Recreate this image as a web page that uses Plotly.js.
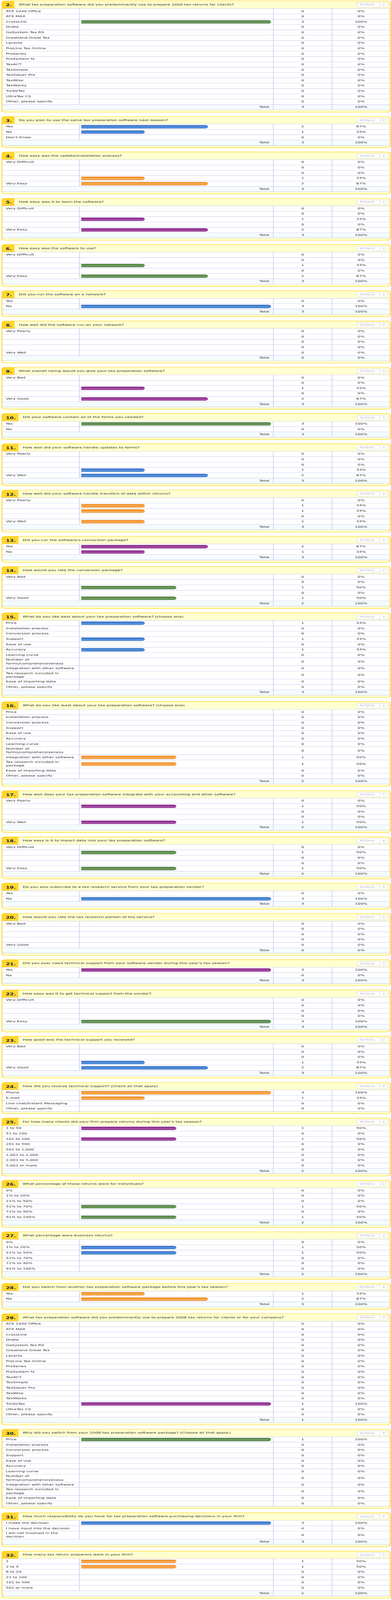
<!DOCTYPE html>
<html>
<head>
<meta charset="utf-8">
<script src="https://cdn.plot.ly/plotly-3.0.1.min.js"></script>
<style>html,body{margin:0;padding:0;background:#ffffff;}</style>
</head>
<body>
<div id="chart" style="width:1000px;height:7178px;"></div>
<script>
// ---------------- DATA ----------------
const questionNumbers = [2,3,4,5,6,7,8,9,10,11,12,13,14,15,16,17,18,19,20,21,22,23,24,25,26,27,28,29,30,31,32];
const questionTitles = [
  "What tax preparation software did you predominantly use to prepare 2009 tax returns for clients?",
  "Do you plan to use the same tax preparation software next season?",
  "How easy was the update/installation process?",
  "How easy was it to learn the software?",
  "How easy was the software to use?",
  "Did you run the software on a network?",
  "How well did the software run on your network?",
  "What overall rating would you give your tax preparation software?",
  "Did your software contain all of the forms you needed?",
  "How well did your software handle updates to forms?",
  "How well did your software handle transfers of data within returns?",
  "Did you run the software's conversion package?",
  "How would you rate the conversion package?",
  "What do you like best about your tax preparation software? (choose one)",
  "What do you like least about your tax preparation software? (choose one)",
  "How well does your tax preparation software integrate with your accounting and other software?",
  "How easy is it to import data into your tax preparation software?",
  "Do you also subscribe to a tax research service from your tax preparation vendor?",
  "How would you rate the tax research portion of the service?",
  "Did you ever need technical support from your software vendor during this year's tax season?",
  "How easy was it to get technical support from the vendor?",
  "How good was the technical support you received?",
  "How did you receive technical support? (Check all that apply)",
  "For how many clients did your firm prepare returns during this year's tax season?",
  "What percentage of those returns were for individuals?",
  "What percentage were business returns?",
  "Did you switch from another tax preparation software package before this year's tax season?",
  "What tax preparation software did you predominantly use to prepare 2008 tax returns for clients or for your company?",
  "Why did you switch from your 2008 tax preparation software package? (Choose all that apply.)",
  "How much responsibility do you have for tax preparation software purchasing decisions in your firm?",
  "How many tax return preparers work in your firm?"
];

const softwareOptions = ["ATX 1040 Office","ATX MAX","CrossLink","Drake","GoSystem Tax RS","Greatland Great Tax","Lacerte","ProLine Tax Online","ProSeries","ProSystem fx","TaxACT","TaxSimple","TaxSlayer Pro","TaxWise","TaxWorks","TurboTax","UltraTax CS","Other, please specify"];
const yesNoDontKnow = ["Yes","No","Don't Know"];
const yesNo = ["Yes","No"];
const difficultyScale = ["Very Difficult","","","","Very Easy"];
const wellScale = ["Very Poorly","","","","Very Well"];
const goodScale = ["Very Bad","","","","Very Good"];
const featureOptions = ["Price","Installation process","Conversion process","Support","Ease of use","Accuracy","Learning curve","Number of<br>forms/comprehensiveness","Integration with other software","Tax research included in<br>package","Ease of importing data","Other, please specify"];
const supportChannels = ["Phone","E-mail","Live chat/Instant Messaging","Other, please specify"];
const clientRanges = ["1 to 50","51 to 100","101 to 200","201 to 500","501 to 1,000","1,001 to 2,000","2,001 to 5,000","5,001 or more"];
const percentRanges = ["0%","1% to 20%","21% to 50%","51% to 70%","71% to 90%","91% to 100%"];
const responsibilityOptions = ["I make the decision","I have input into the decision","I am not involved in the<br>decision"];
const preparerRanges = ["1","2 to 5","6 to 20","21 to 100","101 to 500","501 or more"];

const q2Counts  = [0,0,3,0,0,0,0,0,0,0,0,0,0,0,0,0,0,0];
const q3Counts  = [2,1,0];
const q4Counts  = [0,0,0,1,2];
const q5Counts  = [0,0,1,0,2];
const q6Counts  = [0,0,1,0,2];
const q7Counts  = [0,3];
const q8Counts  = [0,0,0,0,0];
const q9Counts  = [0,0,1,0,2];
const q10Counts = [3,0];
const q11Counts = [0,0,0,1,2];
const q12Counts = [0,1,1,0,1];
const q13Counts = [2,1];
const q14Counts = [0,0,1,0,1];
const q15Counts = [1,0,0,1,0,1,0,0,0,0,0,0];
const q16Counts = [0,0,0,0,0,0,0,0,1,1,0,0];
const q17Counts = [0,1,0,0,1];
const q18Counts = [0,1,0,0,1];
const q19Counts = [0,3];
const q20Counts = [0,0,0,0,0];
const q21Counts = [3,0];
const q22Counts = [0,0,0,0,3];
const q23Counts = [0,0,0,1,2];
const q24Counts = [3,1,0,0];
const q25Counts = [1,0,1,0,0,0,0,0];
const q26Counts = [0,0,0,1,0,1];
const q27Counts = [0,1,1,0,0,0];
const q28Counts = [1,2];
const q29Counts = [0,0,0,0,0,0,0,0,0,0,0,0,0,0,0,1,0,0];
const q30Counts = [1,0,0,0,0,0,0,0,0,0,0,0];
const q31Counts = [3,0,0];
const q32Counts = [1,1,0,0,0,0];

// respondents for "check all that apply" questions (no Total row)
const q24Answered = 3;
const q30Answered = 1;

const questionLabels = [softwareOptions, yesNoDontKnow, difficultyScale, difficultyScale, difficultyScale, yesNo, wellScale, goodScale, yesNo, wellScale, wellScale, yesNo, goodScale, featureOptions, featureOptions, wellScale, difficultyScale, yesNo, goodScale, yesNo, difficultyScale, goodScale, supportChannels, clientRanges, percentRanges, percentRanges, yesNo, softwareOptions, featureOptions, responsibilityOptions, preparerRanges];
const questionCounts = [q2Counts,q3Counts,q4Counts,q5Counts,q6Counts,q7Counts,q8Counts,q9Counts,q10Counts,q11Counts,q12Counts,q13Counts,q14Counts,q15Counts,q16Counts,q17Counts,q18Counts,q19Counts,q20Counts,q21Counts,q22Counts,q23Counts,q24Counts,q25Counts,q26Counts,q27Counts,q28Counts,q29Counts,q30Counts,q31Counts,q32Counts];
const checkAllAnswered = {24: q24Answered, 30: q30Answered};

// ---------------- STYLE / LAYOUT ----------------
const W = 1000, HT = 7178;
const FONT = 'DejaVu Sans Condensed, Liberation Sans Narrow, DejaVu Sans, sans-serif';
const TOP0 = 4, HEAD = 34.5, ROW = 23.9, EXTRA = 12, FOOT = 10.4, GAP = 19.2;
const PX0 = 5, PX1 = 998, C1 = 203, C2 = 699, C3 = 849;
const BX0 = 208, BX1 = 693;
const LABEL_X = 15, COUNT_X = 774, PCT_X = 923.5, TOTAL_X = 689;
const GOLD = '#FFD51C', HEADBG = '#FFFFCF', BOXGOLD = '#FFD630', LAV = '#C9C9F3';
const PALETTE = [
  {base:'#5b8a4a', line:'#2f5a26', hi:'#78a767'},
  {base:'#3a7ad2', line:'#1c51a0', hi:'#63a0e8'},
  {base:'#f59228', line:'#dd6e00', hi:'#fcba6c'},
  {base:'#932f93', line:'#650c65', hi:'#b45db4'}
];

// The browser viewport may be shorter than the requested page height:
// squeeze the whole figure vertically so that all of it is photographed.
(function fitViewport(){
  const vh = window.innerHeight;
  const el = document.getElementById('chart');
  if (vh && vh < HT) {
    el.style.transformOrigin = '0 0';
    el.style.transform = 'scale(1,' + (vh / HT) + ')';
    document.documentElement.style.overflow = 'hidden';
    document.body.style.overflow = 'hidden';
  }
})();

function rpath(x0,y0,x1,y1,rx,ry,c){
  const tl=c[0],tr=c[1],br=c[2],bl=c[3];
  let p = 'M '+(x0+(tl?rx:0))+','+y0;
  p += ' L '+(x1-(tr?rx:0))+','+y0;
  if(tr) p += ' Q '+x1+','+y0+' '+x1+','+(y0+ry);
  p += ' L '+x1+','+(y1-(br?ry:0));
  if(br) p += ' Q '+x1+','+y1+' '+(x1-rx)+','+y1;
  p += ' L '+(x0+(bl?rx:0))+','+y1;
  if(bl) p += ' Q '+x0+','+y1+' '+x0+','+(y1-ry);
  p += ' L '+x0+','+(y0+(tl?ry:0));
  if(tl) p += ' Q '+x0+','+y0+' '+(x0+rx)+','+y0;
  return p+' Z';
}

const shapes = [];
const lineX = [], lineY = [];
const labelT = {x:[],y:[],t:[]}, countT = {x:[],y:[],t:[]}, pctT = {x:[],y:[],t:[]};
const totalT = {x:[],y:[],t:[]}, titleT = {x:[],y:[],t:[]}, numT = {x:[],y:[],t:[]};
const actT = {x:[],y:[],t:[]}, arrT = {x:[],y:[],t:[]};
const traces = [];
const layout = {
  width: W, height: HT, autosize: false,
  margin: {l:0,r:0,t:0,b:0,pad:0},
  paper_bgcolor: '#ffffff', plot_bgcolor: 'rgba(0,0,0,0)',
  showlegend: false, hovermode: false, barmode: 'overlay',
  xaxis: {domain:[0,1], range:[0,W], visible:false, fixedrange:true},
  yaxis: {domain:[0,1], range:[HT,0], visible:false, fixedrange:true},
  shapes: shapes
};

function hline(y, x0, x1){ lineX.push(x0, x1, null); lineY.push(y, y, null); }
function vline(x, y0, y1){ lineX.push(x, x, null); lineY.push(y0, y1, null); }

let cursor = TOP0;
questionNumbers.forEach((num, i) => {
  const labels = questionLabels[i], counts = questionCounts[i];
  const hasTotal = !(num in checkAllAnswered);
  const sum = counts.reduce((a,b)=>a+b,0);
  const base = hasTotal ? sum : checkAllAnswered[num];
  const T = cursor;
  const rowsTop = T + HEAD;
  const centers = [];
  let cy = rowsTop;
  labels.forEach(l => { const h = l.indexOf('<br>')>=0 ? ROW+EXTRA : ROW; centers.push(cy + h/2); cy += h; });
  const optsBottom = cy;
  const totBottom = hasTotal ? optsBottom + ROW : optsBottom;
  const B = totBottom + FOOT;
  const boxR = num >= 10 ? 47 : 37;

  shapes.push({type:'path', xref:'x', yref:'y', layer:'below', path:rpath(PX0,T,PX1,B,10,8,[1,1,1,1]), fillcolor:HEADBG, line:{width:0}});
  shapes.push({type:'rect', xref:'x', yref:'y', layer:'below', x0:PX0+1, x1:PX1-1, y0:rowsTop, y1:totBottom, fillcolor:'#ffffff', line:{width:0}});
  if (hasTotal) shapes.push({type:'rect', xref:'x', yref:'y', layer:'below', x0:PX0+1, x1:PX1-1, y0:optsBottom, y1:totBottom, fillcolor:'#F5FBFE', line:{width:0}});
  shapes.push({type:'path', xref:'x', yref:'y', layer:'below', path:rpath(PX0,T,boxR,rowsTop,10,8,[1,0,0,0]), fillcolor:BOXGOLD, line:{width:0}});
  shapes.push({type:'path', xref:'x', yref:'y', layer:'below', path:rpath(913,T+7.5,992,T+28.5,3,3,[1,1,1,1]), fillcolor:'#FFFFF6', line:{color:'#C8C8F0', width:1}});
  shapes.push({type:'line', xref:'x', yref:'y', layer:'below', x0:972, x1:972, y0:T+11, y1:T+25, line:{color:'#C8C8F0', width:1}});
  shapes.push({type:'path', xref:'x', yref:'y', layer:'below', path:rpath(PX0,T,PX1,B,10,8,[1,1,1,1]), fillcolor:'rgba(0,0,0,0)', line:{color:GOLD, width:2}});

  hline(rowsTop, PX0+1, PX1-1);
  let yy = rowsTop;
  labels.forEach((l) => { const h = l.indexOf('<br>')>=0 ? ROW+EXTRA : ROW; yy += h; hline(yy, PX0+1, PX1-1); });
  if (hasTotal) hline(totBottom, PX0+1, PX1-1);
  vline(C1, rowsTop, optsBottom);
  vline(C2, rowsTop, totBottom);
  vline(C3, rowsTop, totBottom);

  numT.x.push(15); numT.y.push(T+20.5); numT.t.push('<b>'+num+'.</b>');
  titleT.x.push(boxR+11); titleT.y.push(T+17.5); titleT.t.push(questionTitles[i]);
  actT.x.push(939); actT.y.push(T+18); actT.t.push('Actions');
  arrT.x.push(981.5); arrT.y.push(T+18); arrT.t.push('▼');

  labels.forEach((l, k) => {
    if (l) { labelT.x.push(LABEL_X); labelT.y.push(centers[k]); labelT.t.push(l); }
    countT.x.push(COUNT_X); countT.y.push(centers[k]); countT.t.push(String(counts[k]));
    pctT.x.push(PCT_X); pctT.y.push(centers[k]); pctT.t.push((base>0 ? Math.round(counts[k]/base*100) : 0)+'%');
  });
  if (hasTotal) {
    const tc = optsBottom + ROW/2;
    totalT.x.push(TOTAL_X); totalT.y.push(tc); totalT.t.push('Total');
    countT.x.push(COUNT_X); countT.y.push(tc); countT.t.push(String(sum));
    pctT.x.push(PCT_X); pctT.y.push(tc); pctT.t.push(sum>0 ? '100%' : '0%');
  }

  const ax = 'x'+num, ay = 'y'+num;
  const rowsH = optsBottom - rowsTop;
  layout['xaxis'+num] = {domain:[BX0/W, BX1/W], range:[0,1], visible:false, fixedrange:true, anchor:ay};
  layout['yaxis'+num] = {domain:[1-optsBottom/HT, 1-rowsTop/HT], range:[rowsH,0], visible:false, fixedrange:true, anchor:ax};
  const bx = [], by = [];
  counts.forEach((c, k) => { if (c > 0 && base > 0) { bx.push(c/base); by.push(centers[k]-rowsTop); } });
  const pal = PALETTE[(num-2)%4];
  if (bx.length) {
    traces.push({type:'bar', orientation:'h', x:bx, y:by, width:13, xaxis:ax, yaxis:ay,
      marker:{color:pal.base, line:{color:pal.line, width:1}, cornerradius:6}, hoverinfo:'skip', showlegend:false});
    traces.push({type:'bar', orientation:'h', x:bx, y:by.map(v=>v+1.5), width:4.5, xaxis:ax, yaxis:ay,
      marker:{color:pal.hi, line:{width:0}, cornerradius:2}, opacity:0.8, hoverinfo:'skip', showlegend:false});
  }

  cursor = B + GAP;
});

function textTrace(d, pos, size, color){
  return {type:'scatter', mode:'text', x:d.x, y:d.y, text:d.t, textposition:pos,
    textfont:{family:FONT, size:size, color:color}, cliponaxis:false, hoverinfo:'skip', showlegend:false, xaxis:'x', yaxis:'y'};
}

const allTraces = [
  {type:'scatter', mode:'lines', x:lineX, y:lineY, line:{color:LAV, width:1.5}, connectgaps:false, hoverinfo:'skip', showlegend:false, xaxis:'x', yaxis:'y'},
  textTrace(labelT, 'middle right', 12.5, '#333333'),
  textTrace(countT, 'middle center', 12.5, '#333333'),
  textTrace(pctT, 'middle center', 12.5, '#333333'),
  textTrace(totalT, 'middle left', 12.5, '#333333'),
  textTrace(titleT, 'middle right', 12.5, '#333333'),
  textTrace(numT, 'middle right', 16, '#222222'),
  textTrace(actT, 'middle center', 11.5, '#B4B4E6'),
  textTrace(arrT, 'middle center', 8, '#B4B4E6')
].concat(traces);

Plotly.newPlot('chart', allTraces, layout, {staticPlot:true, displayModeBar:false, responsive:false});
</script>
</body>
</html>
